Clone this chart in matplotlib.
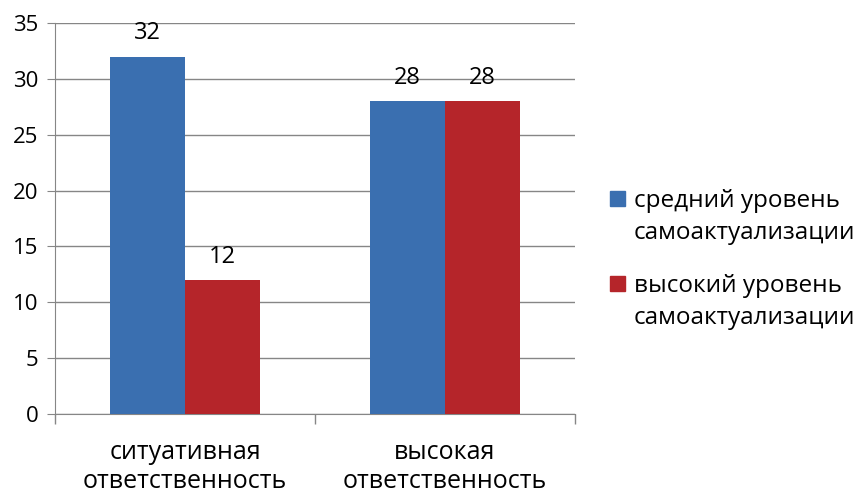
import matplotlib
matplotlib.use("Agg")
import matplotlib.pyplot as plt
from matplotlib.patches import Rectangle
import numpy as np

categories = ["ситуативная\nответственность", "высокая\nответственность"]
series_names = ["средний уровень\nсамоактуализации", "высокий уровень\nсамоактуализации"]
values_mid = [32, 28]
values_high = [12, 28]
colors = ["#3A6FB0", "#B5252A"]

plt.rcParams['font.family'] = ['Open Sans', 'DejaVu Sans']
W, H = 862, 496
fig = plt.figure(figsize=(W/100, H/100), dpi=100)
ax = fig.add_axes([55/W, 1 - 414/H, 520/W, 391/H])

x = np.arange(len(categories))
w = 0.29
b1 = ax.bar(x - w/2, values_mid, w, color=colors[0], zorder=3)
b2 = ax.bar(x + w/2, values_high, w, color=colors[1], zorder=3)
for bars, vals in ((b1, values_mid), (b2, values_high)):
    for r, v in zip(bars, vals):
        ax.text(r.get_x() + r.get_width()/2, v + 1.0, str(v), ha='center', va='bottom', fontsize=17)

ax.set_ylim(0, 35)
ax.set_yticks(range(0, 36, 5))
ax.set_xlim(-0.5, 1.5)
ax.set_xticks(x)
ax.set_xticklabels(categories, fontsize=18, linespacing=1.2)
ax.set_xticks([-0.5, 0.5, 1.5], minor=True)
ax.tick_params(axis='x', which='major', length=0, pad=19)
ax.tick_params(axis='x', which='minor', length=7, color='#868686', width=1)
ax.tick_params(axis='y', length=6, color='#868686', labelsize=16, pad=6)
ax.yaxis.grid(True, color='#868686', linewidth=1, zorder=0)
for s in ['top', 'right']:
    ax.spines[s].set_visible(False)
for s in ['left', 'bottom']:
    ax.spines[s].set_color('#868686')

# legend (manual, to keep square aligned with first text line)
sq = 15
for i, (name, col) in enumerate(zip(series_names, colors)):
    top = 191 + i * 85
    fig.patches.append(Rectangle((610/W, 1 - (top + sq)/H), sq/W, sq/H,
                                 transform=fig.transFigure, color=col))
    for j, line in enumerate(name.split("\n")):
        base = 207 + i * 85 + j * 32
        fig.text(634/W, 1 - base/H, line, fontsize=17.5, va='baseline', ha='left')

fig.savefig("out.png", dpi=100)
